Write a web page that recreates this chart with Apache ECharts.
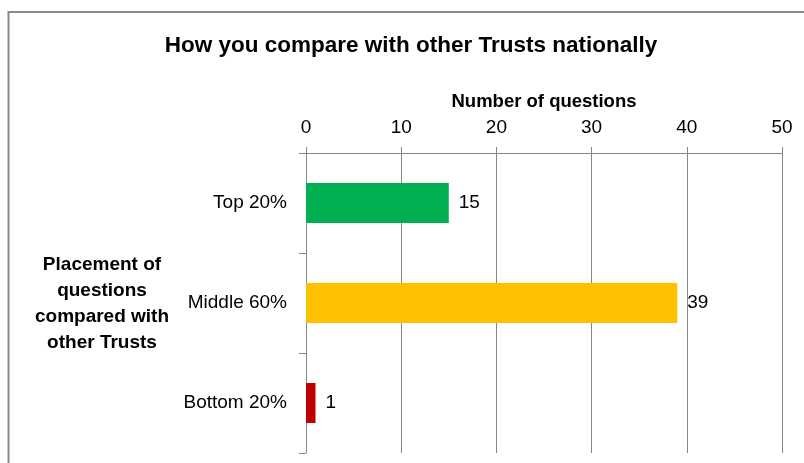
<!DOCTYPE html>
<html>
<head>
<meta charset="utf-8">
<script src="https://cdn.jsdelivr.net/npm/echarts@6/dist/echarts.min.js"></script>
<style>
  html, body { margin: 0; padding: 0; background: #ffffff; }
  #chart { width: 804px; height: 463px; }
</style>
</head>
<body>
<div id="chart"></div>
<script>
// Placement bands and how many questions fall in each
const categories = ['Top 20%', 'Middle 60%', 'Bottom 20%'];
const questionCounts = [15, 39, 1];
const barColors = ['#00B050', '#FFC000', '#C00000'];
const xTicks = { min: 0, max: 50, interval: 10 };

const FONT = '"Liberation Sans", Arial, sans-serif';
const LINE = '#868686';

const chart = echarts.init(document.getElementById('chart'));

chart.setOption({
  backgroundColor: '#ffffff',
  animation: false,
  title: {
    text: 'How you compare with other Trusts nationally',
    left: 406,
    top: 29,
    textAlign: 'center',
    textStyle: { fontFamily: FONT, fontSize: 22.5, fontWeight: 'bold', color: '#000000' }
  },
  graphic: [
    {
      // chart frame
      type: 'rect',
      shape: { x: 8.5, y: 12, width: 900, height: 600 },
      style: { fill: 'none', stroke: '#898989', lineWidth: 2 },
      silent: true
    },
    {
      type: 'text',
      x: 102,
      y: 304,
      style: {
        text: 'Placement of\nquestions\ncompared with\nother Trusts',
        fontFamily: FONT,
        fontSize: 19,
        fontWeight: 'bold',
        lineHeight: 26,
        fill: '#000000',
        align: 'center',
        verticalAlign: 'middle'
      }
    }
  ],
  grid: { left: 306, right: 22, top: 153, bottom: 10, containLabel: false },
  xAxis: {
    type: 'value',
    position: 'top',
    min: xTicks.min,
    max: xTicks.max,
    interval: xTicks.interval,
    name: 'Number of questions',
    nameLocation: 'middle',
    nameGap: 42,
    nameTextStyle: { fontFamily: FONT, fontSize: 18.5, fontWeight: 'bold', color: '#000000' },
    axisLine: { show: true, lineStyle: { color: LINE, width: 1 } },
    axisTick: { show: true, inside: false, length: 6, lineStyle: { color: LINE } },
    axisLabel: { fontFamily: FONT, fontSize: 19, color: '#000000', margin: 16 },
    splitLine: { show: true, lineStyle: { color: LINE, width: 1 } }
  },
  yAxis: {
    type: 'category',
    data: categories,
    inverse: true,
    axisLine: { show: true, lineStyle: { color: LINE, width: 1 } },
    axisTick: { show: true, inside: false, length: 7, lineStyle: { color: LINE } },
    axisLabel: { fontFamily: FONT, fontSize: 19, color: '#000000', margin: 19 },
    splitLine: { show: false }
  },
  series: [
    {
      type: 'bar',
      data: questionCounts.map((v, i) => ({ value: v, itemStyle: { color: barColors[i] } })),
      barWidth: 40,
      label: {
        show: true,
        position: 'right',
        distance: 10,
        fontFamily: FONT,
        fontSize: 19,
        color: '#000000'
      }
    }
  ]
});
</script>
</body>
</html>
